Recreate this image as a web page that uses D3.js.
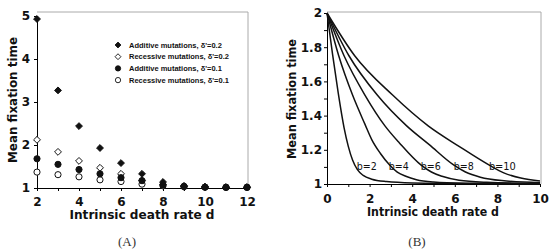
<!DOCTYPE html>
<html>
<head>
<meta charset="utf-8">
<script src="https://cdn.jsdelivr.net/npm/d3@7"></script>
<style>
body{margin:0;background:#fff}
svg{display:block}
.tick text{font-family:"DejaVu Sans";font-weight:bold;font-size:12px;fill:#111}
.axis-title{font-family:"DejaVu Sans";font-weight:bold;font-size:12px;fill:#111}
.legend text{font-family:"Liberation Sans";font-weight:bold;font-size:7.5px;fill:#111}
.caption{font-family:"Liberation Serif";font-size:13px;fill:#333}
.curve-label{font-family:"DejaVu Sans";font-size:11px;fill:#111}
</style>
</head>
<body>
<div class="chart"></div>
<script>
// panel A: mean fixation time vs intrinsic death rate
const deathRates = [2,3,4,5,6,7,8,9,10,11,12];
const additive02  = [4.93,3.27,2.44,1.93,1.58,1.33,1.14,1.05,1.03,1.02,1.02];
const recessive02 = [2.12,1.84,1.63,1.47,1.33,1.18,1.08,1.03,1.02,1.01,1.01];
const additive01  = [1.68,1.55,1.43,1.33,1.24,1.17,1.07,1.04,1.02,1.02,1.02];
const recessive01 = [1.37,1.31,1.26,1.19,1.15,1.09,1.05,1.03,1.02,1.01,1.01];
const legendLabels = [
  "Additive mutations, \u03b4'=0.2",
  "Recessive mutations, \u03b4'=0.2",
  "Additive mutations, \u03b4'=0.1",
  "Recessive mutations, \u03b4'=0.1"
];

// panel B: curves for several birth rates b, points read as [d, time]
const birthRates = [2,4,6,8,10];
const curveB2  = [[0,2],[0.26,1.76],[0.53,1.53],[0.8,1.33],[1.0,1.22],[1.2,1.14],[1.42,1.085],[1.7,1.05],[2.1,1.028],[2.8,1.014],[4,1.006],[6,1.003],[10,1.0]];
const curveB4  = [[0,2],[0.55,1.75],[1.2,1.52],[1.78,1.35],[2.1,1.26],[2.5,1.18],[2.95,1.11],[3.3,1.07],[3.7,1.045],[4.2,1.025],[5,1.012],[6.5,1.005],[10,1.001]];
const curveB6  = [[0,2],[0.8,1.75],[1.78,1.52],[2.72,1.34],[3.4,1.24],[4.42,1.11],[4.9,1.07],[5.4,1.045],[6.2,1.022],[7.5,1.01],[10,1.003]];
const curveB8  = [[0,2],[1.03,1.75],[2.36,1.52],[3.74,1.34],[4.8,1.23],[5.96,1.11],[6.5,1.07],[7.2,1.04],[8.2,1.02],[10,1.008]];
const curveB10 = [[0,2],[1.3,1.75],[3.08,1.52],[4.75,1.34],[6.2,1.22],[7.62,1.11],[8.3,1.065],[9.1,1.035],[10,1.018]];
const curveLabelD = [1.4,2.9,4.4,5.95,7.6];
const curveLabelT = 1.08;

const width = 550, height = 252;
const svg = d3.select('.chart').append('svg')
  .attr('width', width)
  .attr('height', height);

// ---------- panel A ----------
const xA = d3.scaleLinear().domain([2,12]).range([37,247]);
const yA = d3.scaleLinear().domain([1,5]).range([188,16]);

svg.append('path')
  .attr('d', `M${xA(2)},12H248V${yA(1)}`)
  .attr('fill','none').attr('stroke','#aaa').attr('stroke-width',1);

svg.append('g')
  .attr('transform', `translate(0,${yA(1)})`)
  .call(d3.axisBottom(xA).tickValues(deathRates).tickSize(3).tickSizeOuter(0).tickPadding(6)
    .tickFormat(d=>d%2===0?d:''));
svg.append('g')
  .attr('transform', `translate(${xA(2)},0)`)
  .call(d3.axisLeft(yA).tickValues([1,2,3,4,5]).tickSize(3).tickSizeOuter(0).tickPadding(4)
    .tickFormat(d3.format('d')));

// rotated-square diamonds, circles
const series = [
  {vals: recessive02, type: d3.symbolDiamond2, fill: 'white'},
  {vals: recessive01, type: d3.symbolCircle,   fill: 'white'},
  {vals: additive01,  type: d3.symbolCircle,   fill: '#111'},
  {vals: additive02,  type: d3.symbolDiamond2, fill: '#111'}
];
series.forEach(s=>{
  svg.append('g').selectAll('path')
    .data(s.vals)
    .enter()
    .append('path')
    .attr('d', d3.symbol().type(s.type).size(s.type===d3.symbolDiamond2?30:30))
    .attr('transform', (d,i)=>`translate(${xA(deathRates[i])},${yA(d)})`)
    .attr('fill', s.fill)
    .attr('stroke', '#111')
    .attr('stroke-width', 1);
});

const legendMarks = [
  {type: d3.symbolDiamond2, fill: '#111'},
  {type: d3.symbolDiamond2, fill: 'white'},
  {type: d3.symbolCircle,   fill: '#111'},
  {type: d3.symbolCircle,   fill: 'white'}
];
const legend = svg.append('g').attr('class','legend');
legend.selectAll('path')
  .data(legendMarks)
  .enter()
  .append('path')
  .attr('d', d=>d3.symbol().type(d.type).size(22)())
  .attr('transform', (d,i)=>`translate(118,${45+i*11.7})`)
  .attr('fill', d=>d.fill)
  .attr('stroke','#111')
  .attr('stroke-width',0.9);
legend.selectAll('text')
  .data(legendLabels)
  .enter()
  .append('text')
  .attr('x',129)
  .attr('y',(d,i)=>45+i*11.7)
  .attr('dy','0.35em')
  .text(d=>d);

svg.append('text').attr('class','axis-title')
  .attr('x',142).attr('y',219).attr('text-anchor','middle')
  .attr('textLength',145).attr('lengthAdjust','spacingAndGlyphs')
  .text('Intrinsic death rate d');
svg.append('text').attr('class','axis-title')
  .attr('transform','translate(16.5,100) rotate(-90)')
  .attr('text-anchor','middle')
  .attr('textLength',126).attr('lengthAdjust','spacingAndGlyphs')
  .text('Mean fixation time');
svg.append('text').attr('class','caption')
  .attr('x',127).attr('y',246).attr('text-anchor','middle').text('(A)');

// ---------- panel B ----------
const xB = d3.scaleLinear().domain([0,10]).range([327,540]);
const yB = d3.scaleLinear().domain([1,2]).range([184,13]);

svg.append('path')
  .attr('d', `M${xB(0)},12H541V${yB(1)}`)
  .attr('fill','none').attr('stroke','#aaa').attr('stroke-width',1);

svg.append('g')
  .attr('transform', `translate(0,${yB(1)})`)
  .call(d3.axisBottom(xB).tickValues(d3.range(0,11)).tickSize(3).tickSizeOuter(0).tickPadding(7)
    .tickFormat(d=>d%2===0?d:''));
svg.append('g')
  .attr('transform', `translate(${xB(0)},0)`)
  .call(d3.axisLeft(yB).tickValues(d3.range(10,21).map(i=>i/10)).tickSize(3).tickSizeOuter(0).tickPadding(2)
    .tickFormat(d=>Math.round(d*10)%2===0?d3.format('~g')(d):''));

const curves = [curveB2, curveB4, curveB6, curveB8, curveB10];
const line = d3.line()
  .x(d=>xB(d[0]))
  .y(d=>yB(d[1]))
  .curve(d3.curveMonotoneX);
svg.append('g').selectAll('path')
  .data(curves)
  .enter()
  .append('path')
  .attr('d', line)
  .attr('fill','none')
  .attr('stroke','#111')
  .attr('stroke-width',1.5);

svg.selectAll('.curve-label')
  .data(birthRates)
  .enter()
  .append('text')
  .attr('class','curve-label')
  .attr('x',(d,i)=>xB(curveLabelD[i]))
  .attr('y',yB(curveLabelT))
  .attr('textLength',d=>d<10?20:27)
  .attr('lengthAdjust','spacingAndGlyphs')
  .text(d=>'b='+d);

svg.append('text').attr('class','axis-title')
  .attr('x',433).attr('y',216).attr('text-anchor','middle')
  .attr('textLength',132).attr('lengthAdjust','spacingAndGlyphs')
  .text('Intrinsic death rate d');
svg.append('text').attr('class','axis-title')
  .attr('transform','translate(295.5,99) rotate(-90)')
  .attr('text-anchor','middle')
  .attr('textLength',120).attr('lengthAdjust','spacingAndGlyphs')
  .text('Mean fixation time');
svg.append('text').attr('class','caption')
  .attr('x',417).attr('y',246).attr('text-anchor','middle').text('(B)');
</script>
</body>
</html>
